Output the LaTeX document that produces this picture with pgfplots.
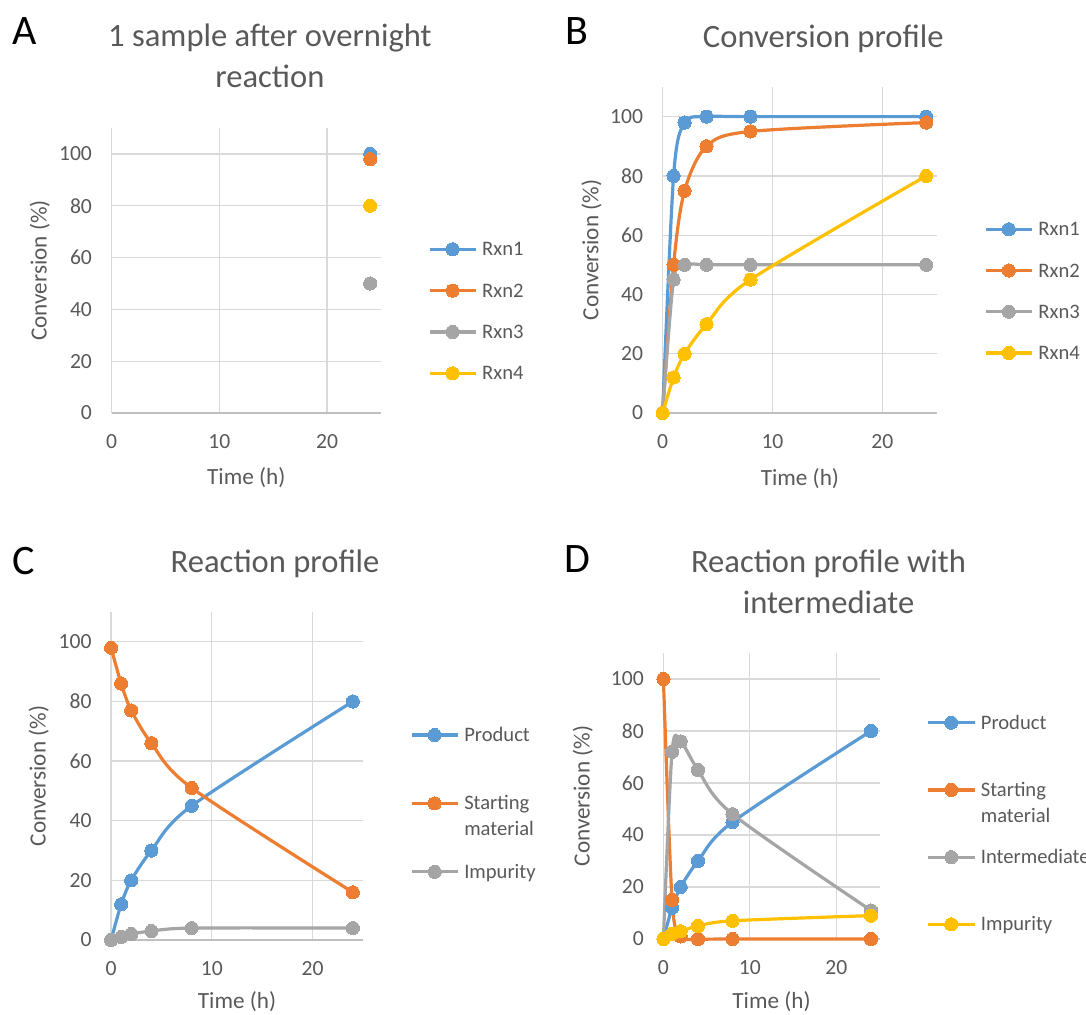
\documentclass[border=0pt]{standalone}
\usepackage{pgfplots}
\pgfplotsset{compat=1.18}
\usepackage{fontspec}
\setmainfont{Carlito}

\definecolor{sBlue}{HTML}{5B9BD5}
\definecolor{sOrange}{HTML}{ED7D31}
\definecolor{sGray}{HTML}{A5A5A5}
\definecolor{sYellow}{HTML}{FFC000}
\definecolor{txtgray}{HTML}{595959}
\definecolor{gridgray}{HTML}{D9D9D9}
\definecolor{axisgray}{HTML}{BFBFBF}

\newcommand{\twolines}[2]{\begin{tabular}[t]{@{}l@{}}#1\\#2\end{tabular}}

\tikzset{
  letter/.style={anchor=base west, inner sep=0pt, font=\fontsize{21}{24}\selectfont},
  ttl/.style={anchor=base, inner sep=0pt, font=\fontsize{16.3}{19.5}\selectfont, text=txtgray},
}

\pgfplotsset{
  panel/.style={
    scale only axis,
    xmin=0, xmax=25, ymin=0, ymax=110,
    xtick={0,10,20}, ytick={0,20,...,100},
    major tick length=0pt,
    axis line style={draw=none},
    grid=major,
    grid style={draw=gridgray, line width=0.6pt},
    extra y ticks={0},
    extra y tick labels={},
    extra y tick style={grid style={draw=axisgray, line width=0.8pt}},
    /pgf/number format/assume math mode=true,
    tick label style={font=\fontsize{10.8}{13}\selectfont, text=txtgray},
    yticklabel style={anchor=east, inner sep=0pt, xshift=-9.6pt},
    xticklabel style={anchor=center, inner sep=0pt, yshift=-14.3pt},
    label style={font=\fontsize{11.6}{14}\selectfont, text=txtgray, inner sep=0pt},
    xlabel={Time (h)},
    ylabel={Conversion (\%)},
    clip=false,
    legend cell align=left,
    legend style={draw=none, fill=none, inner sep=0pt, outer sep=0pt,
      anchor=north west, column sep=2.5pt,
      font=\fontsize{10.3}{13}\selectfont,
      nodes={inner sep=0pt, outer sep=0pt, text height=8pt, text depth=1.4pt, text=txtgray}},
    legend image code/.code={
      \draw[#1, mark repeat=2, mark phase=2]
        plot coordinates {(0pt,0pt) (11.5pt,0pt) (23pt,0pt)};
    },
  },
  ser/.style={color=#1, line width=1.6pt, smooth, tension=0.5, mark=*, mark size=3.3pt,
    mark options={solid, fill=#1, draw=#1, line width=0pt}},
}

\begin{document}
\begin{tikzpicture}
\path[use as bounding box] (0pt,0pt) rectangle (543pt,507pt);

% ---------- A: single overnight sample ----------
\node[letter] at (6.05pt,484.6pt) {A};
\node[ttl] at (134.95pt,483.65pt) {1 sample after overnight};
\node[ttl] at (134.95pt,463.35pt) {reaction};
\begin{axis}[panel, at={(55.75pt,300.5pt)}, anchor=south west,
  width=134.75pt, height=142.5pt,
  xlabel style={at={(axis description cs:0.5,-0.2256)}, anchor=center},
  ylabel style={at={(axis description cs:-0.266,0.5)}, anchor=center},
  legend style={at={(1.1744,0.6074)}, row sep=11.27pt}]
\addplot[ser=sBlue] coordinates {(24,100)};
\addlegendentry{Rxn1}
\addplot[ser=sOrange] coordinates {(24,98)};
\addlegendentry{Rxn2}
\addplot[ser=sGray] coordinates {(24,50)};
\addlegendentry{Rxn3}
\addplot[ser=sYellow] coordinates {(24,80)};
\addlegendentry{Rxn4}
\end{axis}

% ---------- B: conversion profile ----------
\node[letter] at (282.75pt,484.6pt) {B};
\node[ttl] at (411.65pt,483.15pt) {Conversion profile};
\begin{axis}[panel, at={(331.3pt,300.5pt)}, anchor=south west,
  width=137.3pt, height=163pt,
  xlabel style={at={(axis description cs:0.5,-0.2003)}, anchor=center},
  ylabel style={at={(axis description cs:-0.259,0.5)}, anchor=center},
  legend style={at={(1.1712,0.5923)}, row sep=11.2pt}]
\addplot[ser=sBlue] coordinates {(0,0) (1,80) (2,98) (4,100) (8,100) (24,100)};
\addlegendentry{Rxn1}
\addplot[ser=sOrange] coordinates {(0,0) (1,50) (2,75) (4,90) (8,95) (24,98)};
\addlegendentry{Rxn2}
\addplot[ser=sGray] coordinates {(0,0) (1,45) (2,50) (4,50) (8,50) (24,50)};
\addlegendentry{Rxn3}
\addplot[ser=sYellow] coordinates {(0,0) (1,12) (2,20) (4,30) (8,45) (24,80)};
\addlegendentry{Rxn4}
\end{axis}

% ---------- C: reaction profile ----------
\node[letter] at (6.05pt,219.9pt) {C};
\node[ttl] at (137.55pt,220.65pt) {Reaction profile};
\begin{axis}[panel, at={(55.55pt,37pt)}, anchor=south west,
  width=125.9pt, height=164pt,
  xlabel style={at={(axis description cs:0.5,-0.189)}, anchor=center},
  ylabel style={at={(axis description cs:-0.287,0.5)}, anchor=center},
  legend style={at={(1.1873,0.6537)}, row sep=24.8pt}]
\addplot[ser=sBlue] coordinates {(0,0) (1,12) (2,20) (4,30) (8,45) (24,80)};
\addlegendentry{Product}
\addplot[ser=sOrange] coordinates {(0,98) (1,86) (2,77) (4,66) (8,51) (24,16)};
\addlegendentry{\twolines{Starting}{material}}
\addplot[ser=sGray] coordinates {(0,0) (1,1) (2,2) (4,3) (8,4) (24,4)};
\addlegendentry{Impurity}
\end{axis}

% ---------- D: reaction profile with intermediate ----------
\node[letter] at (282.25pt,221pt) {D};
\node[ttl] at (414.25pt,221pt) {Reaction profile with};
\node[ttl] at (414.25pt,200.5pt) {intermediate};
\begin{axis}[panel, at={(331.7pt,37.5pt)}, anchor=south west,
  width=108.1pt, height=143pt,
  xlabel style={at={(axis description cs:0.5,-0.2203)}, anchor=center},
  ylabel style={at={(axis description cs:-0.373,0.5)}, anchor=center},
  legend style={at={(1.2176,0.7892)}, row sep=24.2pt}]
\addplot[ser=sBlue] coordinates {(0,0) (1,12) (2,20) (4,30) (8,45) (24,80)};
\addlegendentry{Product}
\addplot[ser=sOrange] coordinates {(0,100) (1,15) (2,1) (4,0) (8,0) (24,0)};
\addlegendentry{\twolines{Starting}{material}}
\addplot[ser=sGray] coordinates {(0,0) (1,72) (2,76) (4,65) (8,48) (24,11)};
\addlegendentry{Intermediate}
\addplot[ser=sYellow] coordinates {(0,0) (1,2) (2,3) (4,5) (8,7) (24,9)};
\addlegendentry{Impurity}
\end{axis}
\end{tikzpicture}
\end{document}
